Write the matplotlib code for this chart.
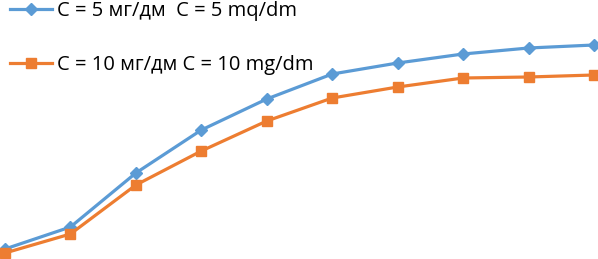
import matplotlib
matplotlib.use("Agg")
import matplotlib.pyplot as plt

x = list(range(10))
c5 = [10, 32, 86, 129, 160, 185, 196, 205, 211, 214]
c10 = [6, 25, 74, 108, 138, 161, 172, 181, 182, 184]
labels = ["C = 5 мг/дм  C = 5 mq/dm", "C = 10 мг/дм C = 10 mg/dm"]

plt.rcParams['font.family'] = ['Open Sans', 'DejaVu Sans']

fig = plt.figure(figsize=(5.98, 2.59), dpi=100)
ax = fig.add_axes([0, 0, 1, 1])
ax.plot(x, c5, color='#5B9BD5', lw=2.3, marker='D', ms=6, label=labels[0])
ax.plot(x, c10, color='#ED7D31', lw=2.3, marker='s', ms=7, label=labels[1])
ax.set_xlim(-0.076, 9.061)
ax.set_ylim(0, 259)
ax.axis('off')

ax.legend(loc='upper left', bbox_to_anchor=(10 / 598, 1 - 1 / 259), frameon=False,
          fontsize=14.5, labelspacing=1.7, handlelength=2.1, handletextpad=0.25,
          borderaxespad=0.0, borderpad=0.0)

fig.savefig('out.png', dpi=100)
